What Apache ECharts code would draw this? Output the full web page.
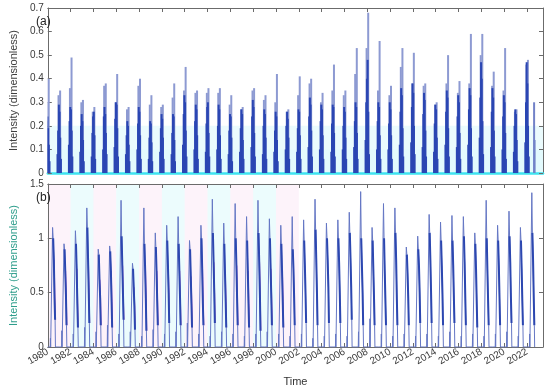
<!DOCTYPE html>
<html>
<head>
<meta charset="utf-8">
<script src="https://cdn.jsdelivr.net/npm/echarts@6/dist/echarts.min.js"></script>
<style>
    html, body { margin: 0; padding: 0; background: #fff; }
    #chart { width: 550px; height: 388px; }
</style>
</head>
<body>
<div id="chart"></div>
<script>
// seasons (one per year)
var years = [1980, 1981, 1982, 1983, 1984, 1985, 1986, 1987, 1988, 1989,
    1990, 1991, 1992, 1993, 1994, 1995, 1996, 1997, 1998, 1999,
    2000, 2001, 2002, 2003, 2004, 2005, 2006, 2007, 2008, 2009,
    2010, 2011, 2012, 2013, 2014, 2015, 2016, 2017, 2018, 2019,
    2020, 2021, 2022];

// (a) tallest spike and second spike of each season
var aPeak = [0.40, 0.35, 0.49, 0.31, 0.28, 0.38, 0.42, 0.28, 0.40, 0.33,
    0.29, 0.38, 0.45, 0.35, 0.36, 0.36, 0.33, 0.28, 0.36, 0.33,
    0.42, 0.27, 0.41, 0.40, 0.34, 0.46, 0.35, 0.53, 0.68, 0.56,
    0.37, 0.53, 0.51, 0.38, 0.30, 0.50, 0.39, 0.59, 0.59, 0.43,
    0.53, 0.27, 0.48];
var aSecond = [0.30, 0.33, 0.36, 0.30, 0.26, 0.37, 0.30, 0.27, 0.37, 0.29,
    0.28, 0.32, 0.35, 0.34, 0.34, 0.34, 0.29, 0.27, 0.35, 0.31,
    0.30, 0.26, 0.33, 0.38, 0.30, 0.35, 0.33, 0.42, 0.53, 0.35,
    0.33, 0.45, 0.38, 0.37, 0.29, 0.38, 0.34, 0.38, 0.50, 0.37,
    0.35, 0.26, 0.46];
// (a) bulk of each season (dark part)
var aBulk = [
    [0.10, 0.22, 0.24, 0.19, 0.12, 0.05], [0.08, 0.18, 0.29, 0.26, 0.15, 0.06],
    [0.12, 0.22, 0.28, 0.27, 0.18, 0.07], [0.09, 0.20, 0.25, 0.22, 0.14, 0.05],
    [0.07, 0.17, 0.24, 0.26, 0.16, 0.06], [0.10, 0.24, 0.28, 0.25, 0.17, 0.08],
    [0.11, 0.23, 0.30, 0.29, 0.19, 0.07], [0.08, 0.16, 0.22, 0.20, 0.12, 0.05],
    [0.10, 0.21, 0.28, 0.26, 0.16, 0.06], [0.06, 0.15, 0.22, 0.21, 0.13, 0.05],
    [0.09, 0.19, 0.25, 0.23, 0.15, 0.06], [0.08, 0.17, 0.25, 0.24, 0.14, 0.05],
    [0.12, 0.25, 0.33, 0.30, 0.18, 0.07], [0.10, 0.22, 0.29, 0.27, 0.16, 0.06],
    [0.09, 0.21, 0.28, 0.30, 0.17, 0.07], [0.10, 0.20, 0.29, 0.27, 0.16, 0.06],
    [0.08, 0.18, 0.25, 0.24, 0.15, 0.05], [0.09, 0.19, 0.27, 0.25, 0.14, 0.06],
    [0.11, 0.24, 0.31, 0.28, 0.17, 0.07], [0.08, 0.20, 0.27, 0.25, 0.15, 0.06],
    [0.09, 0.18, 0.26, 0.24, 0.14, 0.05], [0.10, 0.20, 0.26, 0.23, 0.15, 0.06],
    [0.09, 0.19, 0.27, 0.26, 0.16, 0.06], [0.11, 0.24, 0.32, 0.29, 0.18, 0.07],
    [0.10, 0.22, 0.29, 0.27, 0.16, 0.06], [0.09, 0.21, 0.29, 0.28, 0.17, 0.07],
    [0.10, 0.20, 0.28, 0.26, 0.15, 0.06], [0.11, 0.22, 0.30, 0.28, 0.17, 0.06],
    [0.14, 0.30, 0.40, 0.48, 0.26, 0.08], [0.10, 0.22, 0.30, 0.28, 0.16, 0.06],
    [0.10, 0.21, 0.30, 0.27, 0.16, 0.06], [0.12, 0.26, 0.36, 0.33, 0.19, 0.07],
    [0.13, 0.28, 0.38, 0.34, 0.20, 0.08], [0.11, 0.25, 0.34, 0.31, 0.18, 0.07],
    [0.09, 0.21, 0.29, 0.27, 0.15, 0.06], [0.12, 0.26, 0.35, 0.32, 0.19, 0.07],
    [0.11, 0.24, 0.33, 0.30, 0.17, 0.06], [0.12, 0.27, 0.36, 0.33, 0.19, 0.07],
    [0.15, 0.32, 0.47, 0.40, 0.22, 0.08], [0.11, 0.26, 0.36, 0.32, 0.18, 0.07],
    [0.10, 0.24, 0.33, 0.30, 0.17, 0.06], [0.09, 0.20, 0.27, 0.25, 0.14, 0.05],
    [0.13, 0.30, 0.47, 0.38, 0.20, 0.07]
];
// day of season, as fraction of a year from 1 Jan
var aBulkDays = [-0.15, -0.09, -0.03, 0.03, 0.09, 0.15];
var aPeakDay = 0.08;
var aSecondDay = -0.06;
// last, unfinished season after 2022
var aTailTimes = [2022.62, 2022.66];
var aTailValues = [0.30, 0.14];

// (b) peak, decline after the peak, small early blip of each season
var bPeak = [1.10, 0.95, 1.07, 1.28, 0.90, 0.93, 1.35, 0.77, 1.28, 1.05,
    1.12, 1.20, 0.98, 1.12, 1.36, 1.14, 1.32, 1.20, 1.35, 1.18,
    1.12, 1.20, 1.17, 1.36, 1.14, 1.17, 1.24, 1.43, 1.10, 1.32,
    1.28, 0.92, 1.02, 1.22, 1.15, 1.21, 1.20, 1.05, 1.35, 1.12,
    1.25, 1.10, 1.42];
var bDecline = [
    [1.00, 0.80, 0.45, 0.25], [0.90, 0.70, 0.48, 0.20], [0.95, 0.72, 0.40, 0.18],
    [1.10, 0.80, 0.50, 0.22], [0.85, 0.62, 0.45, 0.20], [0.88, 0.70, 0.42, 0.18],
    [1.02, 0.75, 0.48, 0.25], [0.72, 0.55, 0.38, 0.16], [0.95, 0.72, 0.45, 0.15],
    [0.92, 0.70, 0.42, 0.20], [0.98, 0.75, 0.50, 0.22], [0.95, 0.70, 0.45, 0.20],
    [0.90, 0.65, 0.40, 0.18], [1.00, 0.72, 0.40, 0.20], [1.05, 0.78, 0.50, 0.22],
    [0.95, 0.68, 0.42, 0.18], [1.00, 0.75, 0.45, 0.20], [0.98, 0.70, 0.40, 0.18],
    [1.05, 0.78, 0.48, 0.15], [1.00, 0.72, 0.45, 0.20], [0.95, 0.70, 0.42, 0.18],
    [0.90, 0.72, 0.45, 0.20], [0.98, 0.75, 0.48, 0.22], [1.08, 0.80, 0.50, 0.20],
    [1.00, 0.80, 0.55, 0.22], [1.00, 0.78, 0.50, 0.22], [1.05, 0.82, 0.55, 0.25],
    [1.00, 0.75, 0.50, 0.20], [0.98, 0.72, 0.45, 0.20], [1.00, 0.70, 0.42, 0.20],
    [1.05, 0.80, 0.45, 0.20], [0.85, 0.68, 0.45, 0.20], [0.90, 0.75, 0.50, 0.22],
    [1.05, 0.80, 0.50, 0.22], [0.98, 0.75, 0.48, 0.20], [0.98, 0.75, 0.45, 0.22],
    [1.02, 0.78, 0.45, 0.20], [0.95, 0.72, 0.42, 0.18], [1.00, 0.70, 0.42, 0.20],
    [0.98, 0.75, 0.45, 0.20], [1.02, 0.78, 0.45, 0.22], [0.98, 0.72, 0.42, 0.20],
    [1.05, 0.80, 0.45, 0.20]
];
var bBlip = [0.08, 0.15, 0.12, 0.18, 0.14, 0.20, 0.12, 0.14, 0.10, 0.16,
    0.12, 0.14, 0.22, 0.12, 0.10, 0.14, 0.12, 0.10, 0.12, 0.14,
    0.12, 0.10, 0.12, 0.08, 0.10, 0.12, 0.10, 0.14, 0.26, 0.12,
    0.10, 0.12, 0.10, 0.12, 0.10, 0.14, 0.10, 0.12, 0.10, 0.12,
    0.14, 0.10, 0.12];
var bBlipDay = 0.23;
var bRiseDay = 0.38;
var bPeakDay = 0.42;
var bDeclineDays = [0.47, 0.53, 0.59, 0.64];
var bEndDay = 0.67;
// the older record (up to 2000) shows a magenta trace under the blue one
var bOldLastYear = 2000;

var chart = echarts.init(document.getElementById('chart'));

// panel (a) bars: light spikes first, dark bulk drawn over them
var topData = [];
years.forEach(function (y, i) {
    topData.push({ value: [y + aPeakDay, aPeak[i]], itemStyle: { color: '#8d9ad2' } });
    topData.push({ value: [y + aSecondDay, aSecond[i]], itemStyle: { color: '#8d9ad2' } });
});
aTailTimes.forEach(function (t, i) {
    topData.push({ value: [t, aTailValues[i]], itemStyle: { color: '#7282c8' } });
});
years.forEach(function (y, i) {
    aBulk[i].forEach(function (v, k) {
        topData.push({ value: [y + aBulkDays[k], v], itemStyle: { color: '#2b46b3' } });
    });
});

// panel (b) line, zero between seasons
var lineData = [];
var darkData = [];
var oldData = [];
years.forEach(function (y, i) {
    lineData.push([y, 0]);
    lineData.push([y + bBlipDay - 0.02, 0]);
    lineData.push([y + bBlipDay, bBlip[i]]);
    lineData.push([y + bBlipDay + 0.02, 0]);
    lineData.push([y + bRiseDay, 0]);
    lineData.push([y + bPeakDay, bPeak[i]]);
    bDecline[i].forEach(function (v, k) {
        lineData.push([y + bDeclineDays[k], v]);
        darkData.push([y + bDeclineDays[k], v]);
        if (y <= bOldLastYear && k >= 1) {
            oldData.push([y + bDeclineDays[k] + 0.03, v]);
        }
    });
    darkData.push([y + bEndDay, '-']);
    if (y <= bOldLastYear) {
        oldData.push([y + bEndDay + 0.03, '-']);
    }
    lineData.push([y + bEndDay, 0]);
});

var axisColor = '#6b6b6b';
var labelColor = '#3a3a3a';
var font = 'Liberation Sans, Arial, sans-serif';

function xAx(grid, pos, showLabel) {
    return {
        type: 'value', gridIndex: grid, position: pos,
        min: 1980, max: 2023.4, interval: 2,
        axisLine: { show: true, onZero: false, lineStyle: { color: axisColor, width: 1 } },
        axisTick: { show: true, inside: true, length: 4, lineStyle: { color: axisColor } },
        splitLine: { show: false },
        axisLabel: {
            show: showLabel, rotate: 30, fontSize: 10, color: labelColor, fontFamily: font,
            margin: 4, showMinLabel: true, showMaxLabel: false, hideOverlap: false,
            formatter: function (v) { return String(v); }
        }
    };
}
function yAx(grid, pos, max, interval, showLabel, nameColor) {
    return {
        type: 'value', gridIndex: grid, position: pos,
        min: 0, max: max, interval: interval,
        name: showLabel ? 'Intensity (dimensionless)' : '',
        nameLocation: 'middle', nameGap: 24,
        nameTextStyle: { fontSize: 11, color: nameColor, fontFamily: font },
        axisLine: { show: true, onZero: false, lineStyle: { color: axisColor, width: 1 } },
        axisTick: { show: true, inside: true, length: 4, lineStyle: { color: axisColor } },
        splitLine: { show: false },
        axisLabel: { show: showLabel, fontSize: 10, color: labelColor, fontFamily: font, margin: 4 }
    };
}

// bottom axis of (a) is the cyan zero line
var xa = xAx(0, 'bottom', false);
xa.axisLine.lineStyle = { color: '#3fe3f0', width: 2.5 };
xa.axisTick.show = false;

var xb = xAx(1, 'bottom', true);
xb.name = 'Time';
xb.nameLocation = 'middle';
xb.nameGap = 29;
xb.nameTextStyle = { fontSize: 11, color: '#333', fontFamily: font };

// faint pink / cyan tint over the older part of (b)
var pinkT = 'rgba(250,215,240,0.30)';
var cyanT = 'rgba(205,248,250,0.38)';
var clearT = 'rgba(255,255,255,0)';
var xbTop = xAx(1, 'top', false);
xbTop.splitArea = {
    show: true,
    areaStyle: {
        color: [pinkT, cyanT, pinkT, cyanT, pinkT, cyanT, pinkT, cyanT, pinkT, cyanT, pinkT,
            clearT, clearT, clearT, clearT, clearT, clearT, clearT, clearT, clearT, clearT, clearT]
    }
};

// faint cyan haze close to zero in (a)
var yaRight = yAx(0, 'right', 0.7, 0.1, false, '#333');
yaRight.splitArea = {
    show: true,
    areaStyle: { color: ['rgba(175,240,248,0.35)', 'rgba(175,240,248,0.25)', clearT,
        clearT, clearT, clearT, clearT] }
};

var option = {
    animation: false,
    backgroundColor: '#fff',
    grid: [
        { left: 31, right: 7, top: 8, height: 165 },
        { left: 31, right: 7, top: 184, height: 167 }
    ],
    xAxis: [xa, xAx(0, 'top', false), xb, xbTop],
    yAxis: [
        yAx(0, 'left', 0.7, 0.1, true, '#404040'),
        yaRight,
        yAx(1, 'left', 1.5, 0.5, true, '#2f9e8c'),
        yAx(1, 'right', 1.5, 0.5, false, '#333')
    ],
    graphic: [
        { type: 'text', left: 36, top: 16, z: 100, style: { text: '(a)', fontSize: 12, fill: '#222', fontFamily: font } },
        { type: 'text', left: 36, top: 192, z: 100, style: { text: '(b)', fontSize: 12, fill: '#222', fontFamily: font } }
    ],
    series: [
        {
            type: 'bar', xAxisIndex: 0, yAxisIndex: 0,
            barWidth: 2, silent: true,
            data: topData
        },
        {
            type: 'line', xAxisIndex: 2, yAxisIndex: 2,
            showSymbol: false, silent: true, connectNulls: false,
            lineStyle: { color: '#c64bc0', width: 1 },
            data: oldData
        },
        {
            type: 'line', xAxisIndex: 2, yAxisIndex: 2,
            showSymbol: false, silent: true,
            lineStyle: { color: '#6577c4', width: 1 },
            data: lineData
        },
        {
            type: 'line', xAxisIndex: 2, yAxisIndex: 2,
            showSymbol: false, silent: true, connectNulls: false,
            lineStyle: { color: '#2c47b0', width: 2 },
            data: darkData
        }
    ]
};
chart.setOption(option);
</script>
</body>
</html>
